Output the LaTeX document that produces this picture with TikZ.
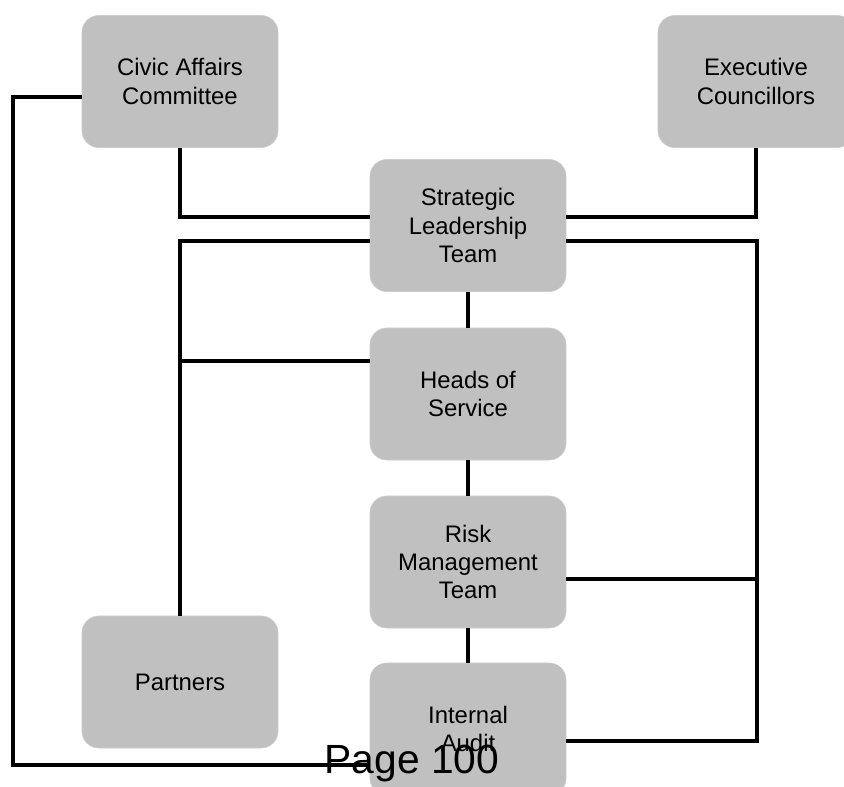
\documentclass[tikz,border=0pt]{standalone}
\usepackage{fontspec}
\setmainfont{Liberation Sans}
\usepackage{tikz}
\usetikzlibrary{arrows,shapes,positioning}
\usepackage{xcolor}
\definecolor{boxgrey}{RGB}{192,192,192}
\definecolor{boxedge}{RGB}{205,205,205}
\tikzstyle{unit} = [rectangle, rounded corners=0.42cm, minimum width=4.9cm, minimum height=3.3cm, inner sep=0pt, align=center, text centered, draw=boxedge, fill=boxgrey, font=\fontsize{17}{20.2}\selectfont]
\tikzstyle{link} = [line width=3.3pt, color=black]

\begin{document}
\begin{tikzpicture}[x=0.025cm, y=-0.025cm]
\clip (0,0) rectangle (844,787);
% boxes
\node[unit] (civic) at (180,81.5) {Civic Affairs\\Committee};
\node[unit] (exec) at (756,81.5) {Executive\\Councillors};
\node[unit] (slt) at (468,225.5) {Strategic\\Leadership\\Team};
\node[unit] (heads) at (468,394) {Heads of\\Service};
\node[unit] (risk) at (468,562) {Risk\\Management\\Team};
\node[unit] (iaud) at (468,729) {Internal\\Audit};
\node[unit] (partners) at (180,682) {Partners};
\coordinate (rb) at (757,741);

% links
\draw[link] (civic.west |- 0,97) -| (13,765) -- (iaud.west |- 0,765);
\draw[link] (civic.south) |- (slt.west |- 0,217);
\draw[link] (exec.south) |- (slt.east |- 0,217);
\draw[link] (slt.west |- 0,241) -| (partners.north);
\draw[link] (heads.west |- 0,361) -- (partners.north |- 0,361);
\draw[link] (slt.east |- 0,241) -| (rb) -- (iaud.east |- rb);
\draw[link] (risk.east |- 0,579) -- (rb |- 0,579);
\draw[link] (slt.south) -- (heads.north);
\draw[link] (heads.south) -- (risk.north);
\draw[link] (risk.south) -- (iaud.north);

\node[anchor=base, inner sep=0pt, font=\fontsize{29}{34}\selectfont] (page) at (412,773) {Page 100};
\end{tikzpicture}
\end{document}
